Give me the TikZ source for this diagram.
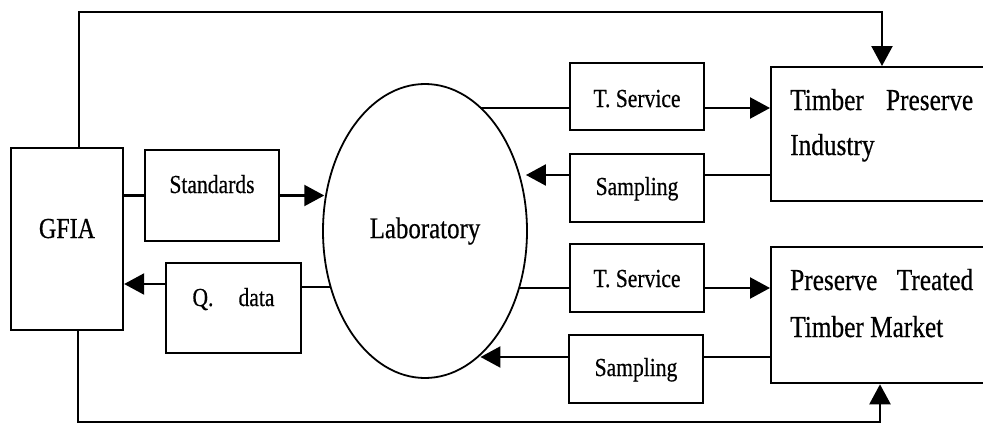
\documentclass[tikz,border=0pt]{standalone}
\usepackage{fontspec}
\setmainfont[FakeStretch=0.83, FakeBold=0.5]{Liberation Serif}
\usetikzlibrary{arrows.meta,shapes.geometric}
\tikzset{
  box/.style={draw=black, line width=2.3pt, inner sep=0pt, align=center, anchor=base, font=\fontsize{26}{30}\selectfont},
  bigbox/.style={draw=black, line width=2.3pt, inner sep=0pt, anchor=north west, minimum width=240pt},
  bigtext/.style={inner sep=0pt, anchor=base west, font=\fontsize{30.5}{35}\selectfont},
  arrow/.style={-{Triangle[length=20pt,width=21pt]}, line width=2.3pt},
  link/.style={line width=2.3pt}
}

\begin{document}
\begin{tikzpicture}[x=1pt, y=-1pt,
  lab/.style={draw=black, ellipse, line width=1.8pt, inner sep=0pt, font=\fontsize{30}{34}\selectfont}
]
\useasboundingbox (0,0) rectangle (983,423);
\clip (0,0) rectangle (983,423);
% authority and laboratory
\node[box, font=\fontsize{29}{33}\selectfont, minimum width=112pt, text height=90pt, text depth=92pt] (gfia) at (67,238) {GFIA};
\node[box, minimum width=134pt, text height=43pt, text depth=48pt] (std) at (212,193) {Standards};
\node[box, minimum width=135pt, text height=43pt, text depth=47pt] (qd) at (233.5,306) {\makebox[82pt][s]{Q. data}};
\node[lab, minimum width=204pt, minimum height=294pt] (lab) at (425,231) {Laboratory};
% service / sampling boxes
\node[box, minimum width=134pt, text height=44pt, text depth=23pt] (ts1) at (637,107) {T. Service};
\node[box, minimum width=134pt, text height=41pt, text depth=27pt] (sp1) at (637,195) {Sampling};
\node[box, minimum width=134pt, text height=43pt, text depth=25pt] (ts2) at (637,287) {T. Service};
\node[box, minimum width=134pt, text height=41pt, text depth=27pt] (sp2) at (636,376) {Sampling};
% industry and market (right, cut by the page edge)
\node[bigbox, minimum height=134pt] (tpi) at (770,66) {};
\node[bigtext] (tpi1) at (790,110) {\makebox[183pt][s]{Timber Preserve}};
\node[bigtext] (tpi2) at (790,155) {Industry};
\node[bigbox, minimum height=136pt] (mkt) at (770,246) {};
\node[bigtext] (mkt1) at (790,290) {\makebox[183pt][s]{Preserve Treated}};
\node[bigtext] (mkt2) at (790,337) {Timber Market};
% connector levels
\coordinate (qdout) at ([yshift=21pt]qd.east);
\coordinate (qdin) at ([yshift=24pt]qd.west);
\coordinate (ts1a) at ([yshift=-11.5pt]ts1.west);
\coordinate (ts1b) at ([yshift=-11.5pt]ts1.east);
\coordinate (sp1a) at ([yshift=13pt]sp1.east);
\coordinate (sp1b) at ([yshift=13pt]sp1.west);
\coordinate (ts2a) at ([yshift=-10pt]ts2.west);
\coordinate (ts2b) at ([yshift=-10pt]ts2.east);
\coordinate (sp2a) at ([yshift=12pt]sp2.east);
\coordinate (sp2b) at ([yshift=12pt]sp2.west);
\coordinate (gfiaup) at ([xshift=12pt]gfia.north);
\coordinate (gfiadown) at ([xshift=11pt]gfia.south);
\coordinate (tpiin) at ([xshift=112pt]tpi.north west);
\coordinate (mktin) at ([xshift=110pt]mkt.south west);
% left side
\draw[link] (gfia.east |- std.west) -- (std.west);
\draw[arrow, shorten >=1pt] (std.east) -- (std.east -| lab.160);
\draw[link] (qdout -| lab.211) -- (qdout);
\draw[arrow] (qdin) -- (qdin -| gfia.east);
% right side
\draw[link] (ts1a -| lab.66) -- (ts1a);
\draw[arrow] (ts1b) -- (ts1b -| tpi.west);
\draw[link] (sp1a -| tpi.west) -- (sp1a);
\draw[arrow, shorten >=6pt] (sp1b) -- (sp1b -| lab.31);
\draw[link] (ts2a -| lab.329) -- (ts2a);
\draw[arrow] (ts2b) -- (ts2b -| mkt.west);
\draw[link] (sp2a -| mkt.west) -- (sp2a);
\draw[arrow] (sp2b) -- (sp2b -| lab.294);
% loops round the top and the bottom
\draw[arrow] (gfiaup) -- ++(0,-135) -| (tpiin);
\draw[arrow] (gfiadown) -- ++(0,91) -| (mktin);
\end{tikzpicture}
\end{document}
